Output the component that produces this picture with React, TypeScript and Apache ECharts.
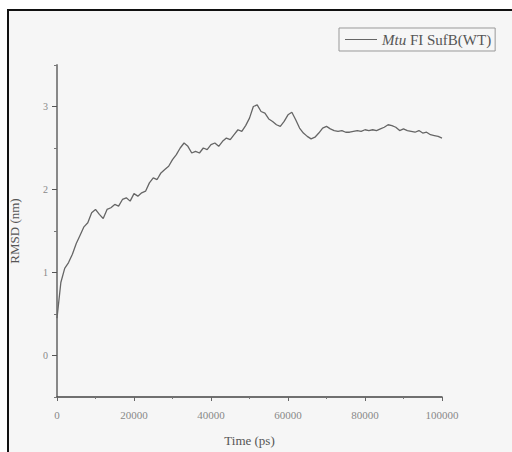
import React, { useEffect, useRef } from "react";
import * as echarts from "echarts";

const timePs: number[] = [
  0, 1000, 2000, 3000, 4000, 5000, 6000, 7000, 8000, 9000,
  10000, 11000, 12000, 13000, 14000, 15000, 16000, 17000, 18000, 19000,
  20000, 21000, 22000, 23000, 24000, 25000, 26000, 27000, 28000, 29000,
  30000, 31000, 32000, 33000, 34000, 35000, 36000, 37000, 38000, 39000,
  40000, 41000, 42000, 43000, 44000, 45000, 46000, 47000, 48000, 49000,
  50000, 51000, 52000, 53000, 54000, 55000, 56000, 57000, 58000, 59000,
  60000, 61000, 62000, 63000, 64000, 65000, 66000, 67000, 68000, 69000,
  70000, 71000, 72000, 73000, 74000, 75000, 76000, 77000, 78000, 79000,
  80000, 81000, 82000, 83000, 84000, 85000, 86000, 87000, 88000, 89000,
  90000, 91000, 92000, 93000, 94000, 95000, 96000, 97000, 98000, 99000,
  100000,
];

const rmsdNm: number[] = [
  0.45, 0.88, 1.05, 1.12, 1.22, 1.35, 1.45, 1.55, 1.6, 1.72,
  1.76, 1.7, 1.65, 1.76, 1.78, 1.82, 1.8, 1.88, 1.9, 1.86,
  1.95, 1.92, 1.96, 1.98, 2.08, 2.14, 2.12, 2.2, 2.24, 2.28,
  2.36, 2.42, 2.5, 2.56, 2.52, 2.44, 2.46, 2.44, 2.5, 2.48,
  2.54, 2.56, 2.52, 2.58, 2.62, 2.6, 2.66, 2.72, 2.7, 2.77,
  2.86, 3.0, 3.02, 2.94, 2.92, 2.85, 2.82, 2.78, 2.76, 2.82,
  2.9, 2.93, 2.84, 2.74, 2.68, 2.64, 2.61, 2.63, 2.68, 2.74,
  2.76, 2.73, 2.71, 2.7, 2.71, 2.69, 2.69, 2.7, 2.71, 2.7,
  2.72, 2.71, 2.72, 2.71, 2.73, 2.75, 2.78, 2.77, 2.75, 2.71,
  2.73, 2.71, 2.7, 2.69, 2.71, 2.68, 2.69, 2.66, 2.65, 2.64,
  2.62,
];

const yMajorTicks: number[] = [0, 1, 2, 3];
const yMinorTicks: number[] = [-0.5, 0.5, 1.5, 2.5, 3.5];
const seriesName = "Mtu FI SufB(WT)";

const FONT = "'Liberation Serif', 'DejaVu Serif', serif";

export default function App() {
  const ref = useRef<HTMLDivElement>(null);
  useEffect(() => {
    document.body.style.margin = "0";
    if (!ref.current) return;
    const chart = echarts.init(ref.current, null, { renderer: "svg" });
    const data = timePs.map((t, i) => [t, rmsdNm[i]]);
    chart.setOption({
      animation: false,
      backgroundColor: "#ffffff",
      graphic: [
        {
          type: "rect",
          z: -10,
          silent: true,
          shape: { x: 8, y: 10, width: 520, height: 460 },
          style: { fill: "#f6f6f6", stroke: "#111", lineWidth: 2 },
        },
      ],
      grid: { left: 57, right: 70, top: 65, bottom: 52 },
      legend: {
        left: 339,
        top: 28,
        padding: [4, 4, 4, 6],
        borderColor: "#999",
        borderWidth: 1,
        itemWidth: 32,
        itemHeight: 1,
        itemGap: 6,
        data: [{ name: seriesName, icon: "rect" }],
        formatter: () => "{i|Mtu} FI SufB(WT)",
        textStyle: {
          fontFamily: FONT,
          fontSize: 15,
          color: "#555",
          rich: {
            i: { fontFamily: FONT, fontSize: 15, fontStyle: "italic", color: "#555" },
          },
        },
      },
      xAxis: {
        type: "value",
        min: 0,
        max: 100000,
        interval: 20000,
        name: "Time (ps)",
        nameLocation: "middle",
        nameGap: 37,
        nameTextStyle: { fontFamily: FONT, fontSize: 13, color: "#555" },
        axisLine: { show: true, onZero: false, lineStyle: { color: "#444", width: 1.5 } },
        axisTick: { show: true, length: 4, lineStyle: { color: "#666" } },
        minorTick: { show: true, splitNumber: 2, length: 2, lineStyle: { color: "#777" } },
        axisLabel: {
          fontFamily: FONT,
          fontSize: 11,
          color: "#888",
          margin: 12,
          formatter: (v: number) => String(v),
        },
        splitLine: { show: false },
      },
      yAxis: [
        {
          type: "value",
          min: -0.5,
          max: 3.5,
          interval: 0.5,
          name: "RMSD (nm)",
          nameLocation: "middle",
          nameGap: 36,
          nameTextStyle: { fontFamily: FONT, fontSize: 13, color: "#555" },
          axisLine: { show: true, onZero: false, lineStyle: { color: "#888", width: 2 } },
          axisTick: { show: true, length: 5, customValues: yMajorTicks, lineStyle: { color: "#555" } },
          axisLabel: {
            fontFamily: FONT,
            fontSize: 10,
            color: "#888",
            margin: 9,
            customValues: yMajorTicks,
          },
          splitLine: { show: false },
        },
        {
          type: "value",
          min: -0.5,
          max: 3.5,
          interval: 0.5,
          position: "left",
          axisLine: { show: false },
          axisTick: { show: true, length: 3, customValues: yMinorTicks, lineStyle: { color: "#777" } },
          axisLabel: { show: false },
          splitLine: { show: false },
        },
      ],
      series: [
        {
          name: seriesName,
          type: "line",
          data,
          showSymbol: false,
          symbol: "none",
          lineStyle: { color: "#666", width: 1.3 },
          itemStyle: { color: "#666" },
        },
      ],
    });
    return () => chart.dispose();
  }, []);
  return (
    <div
      ref={ref}
      style={{ position: "absolute", left: 0, top: 0, width: 512, height: 452 }}
    />
  );
}
